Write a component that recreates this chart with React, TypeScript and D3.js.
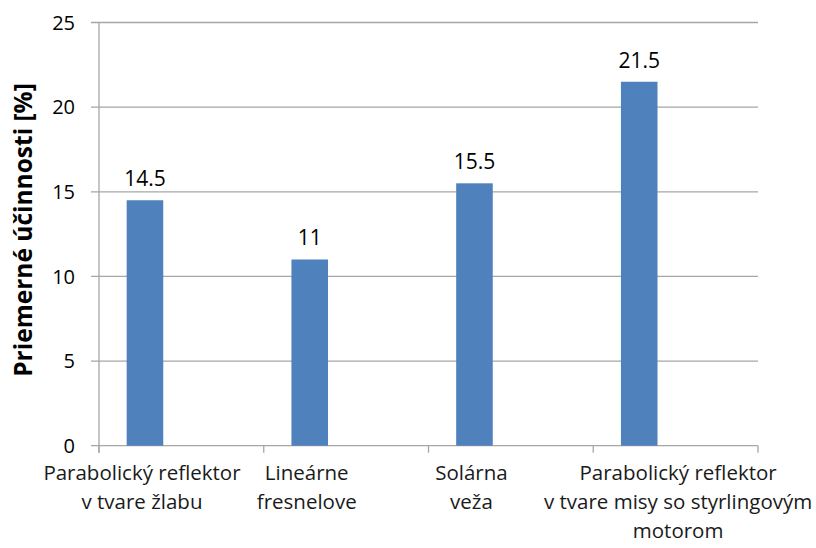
import React from "react";
import * as d3 from "d3";

const categories: string[][] = [
  ["Parabolický reflektor", "v tvare žlabu"],
  ["Lineárne", "fresnelove"],
  ["Solárna", "veža"],
  ["Parabolický reflektor", "v tvare misy so styrlingovým", "motorom"],
];
const values: number[] = [14.5, 11, 15.5, 21.5];
const valueLabels: string[] = ["14.5", "11", "15.5", "21.5"];
const yTicks: number[] = [0, 5, 10, 15, 20, 25];
const yTitle = "Priemerné účinnosti [%]";

const W = 816;
const H = 548;
const M = { left: 99, right: 58, top: 22.5, bottom: 102.3 };
const FONT = "'Open Sans', 'DejaVu Sans', sans-serif";

export default function App() {
  const x = d3
    .scaleBand<number>()
    .domain(d3.range(categories.length))
    .range([M.left, W - M.right])
    .paddingInner(0)
    .paddingOuter(0);
  const y = d3.scaleLinear().domain([0, 25]).range([H - M.bottom, M.top]);
  const bw = x.bandwidth();
  const barOff = bw * 0.168;
  const barW = bw * 0.222;
  const y0 = y(0);
  const catFont = 20.5;

  return (
    <svg width={W} height={H} style={{ position: "absolute", left: 0, top: 0, background: "#fff" }} fontFamily={FONT}>
      {yTicks.map((t) => (
        <line key={"g" + t} x1={M.left - 8} x2={W - M.right} y1={y(t)} y2={y(t)} stroke="#a6a6a6" strokeWidth={1.3} />
      ))}
      <line x1={M.left} x2={M.left} y1={M.top} y2={y0 + 7} stroke="#a6a6a6" strokeWidth={1.3} />
      {d3.range(categories.length + 1).map((i) => {
        const xx = M.left + i * bw;
        return <line key={"t" + i} x1={xx} x2={xx} y1={y0} y2={y0 + 7} stroke="#a6a6a6" strokeWidth={1.3} />;
      })}
      {yTicks.map((t) => (
        <text key={"yl" + t} x={M.left - 24} y={y(t)} dy="0.36em" textAnchor="end" fontSize={20} fill="#000">
          {t}
        </text>
      ))}
      {values.map((v, i) => (
        <g key={"b" + i}>
          <rect x={(x(i) as number) + barOff} y={y(v)} width={barW} height={y0 - y(v)} fill="#4f81bd" />
          <text x={(x(i) as number) + barOff + barW / 2} y={y(v) - 14} textAnchor="middle" fontSize={21} fill="#000">
            {valueLabels[i]}
          </text>
        </g>
      ))}
      {categories.map((lines, i) => {
        const c = (x(i) as number) + barOff + barW / 2 - 3;
        const maxLen = d3.max(lines, (l) => l.length) as number;
        const estW = maxLen * catFont * 0.47;
        const cx = i === categories.length - 1 ? W - 3 - estW / 2 : c;
        return (
          <text key={"c" + i} x={cx} y={y0 + 34} textAnchor="middle" fontSize={catFont} fill="#1a1a1a">
            {lines.map((l, j) => (
              <tspan key={j} x={cx} dy={j === 0 ? 0 : 29}>
                {l}
              </tspan>
            ))}
          </text>
        );
      })}
      <text
        transform={`translate(${32},${230}) rotate(-90)`}
        textAnchor="middle"
        fontSize={24.5}
        fontWeight="bold"
        fill="#000"
      >
        {yTitle}
      </text>
    </svg>
  );
}
